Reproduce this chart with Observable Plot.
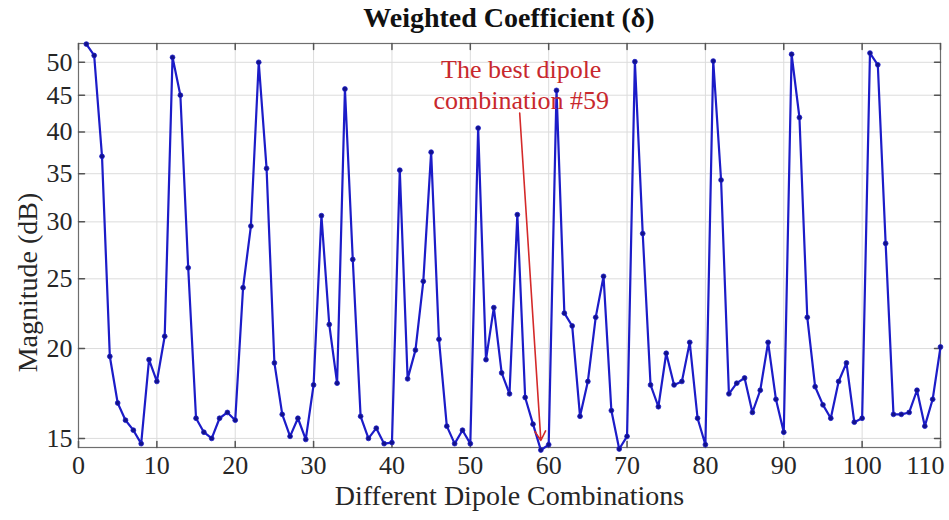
<!DOCTYPE html>
<html><head><meta charset="utf-8">
<script src="https://cdn.jsdelivr.net/npm/d3@7"></script>
<script src="https://cdn.jsdelivr.net/npm/@observablehq/plot@0.6"></script>
<style>
body{margin:0;background:#fff;}
#title{height:40px;width:949px;font:bold 28px "Liberation Serif",serif;line-height:36px;text-align:center;padding-left:69px;box-sizing:border-box;color:#111;}
</style></head><body>
<div id="title">Weighted Coefficient (δ)</div>
<div id="chart"></div>
<script>
// Data
const combos = d3.range(1, 111);
const magnitude = [
  53.0, 51.1, 37.0, 19.5, 16.8, 15.9, 15.4, 14.75, 19.3, 18.0,
  20.8, 50.8, 45.0, 25.9, 16.0, 15.3, 15.0, 16.0, 16.3, 15.9,
  24.3, 29.6, 50.0, 35.6, 19.1, 16.2, 15.1, 16.0, 14.95, 17.8,
  30.6, 21.6, 17.9, 45.9, 26.6, 16.1, 15.0, 15.5, 14.75, 14.8,
  35.4, 18.15, 19.9, 24.8, 37.5, 20.6, 15.6, 14.75, 15.4, 14.75,
  40.5, 19.3, 22.8, 18.5, 17.3, 30.7, 17.1, 15.7, 14.45, 14.7,
  45.7, 22.4, 21.5, 16.1, 18.0, 22.1, 25.2, 16.4, 14.5, 15.1,
  50.1, 28.9, 17.8, 16.6, 19.7, 17.8, 18.0, 20.4, 16.0, 14.7,
  50.2, 34.3, 17.3, 17.9, 18.2, 16.3, 17.5, 20.4, 17.0, 15.3,
  51.3, 41.9, 22.1, 17.7, 16.7, 16.0, 18.0, 19.1, 15.8, 16.0,
  51.5, 49.6, 28.0, 16.2, 16.2, 16.3, 17.5, 15.6, 17.0, 20.1
];
const xTicks = d3.range(0, 111, 10);
const yTicks = [15, 20, 25, 30, 35, 40, 45, 50];
const xDomain = [0, 110];
const yDomain = [14.57, 53.1];
const annotationLabel = "The best dipole\ncombination #59";
const annotationPos = [{x: 56.5, y: 46.7}];
const arrowData = [{x1: 56.3, y1: 42.5, x2: 59, y2: 14.9}];
const axisTitleX = "Different Dipole Combinations";
const axisTitleY = "Magnitude (dB)";

const data = combos.map((c, i) => ({x: c, y: magnitude[i]}));
const tickShape = {draw(ctx, l) { ctx.moveTo(0, 0); ctx.lineTo(0, -l); }};
const tickColor = "#555";
const font = "'Liberation Serif', 'Times New Roman', serif";
const innerTicks = xTicks.filter(d => d < xDomain[1]);
const edgeTicks = xTicks.filter(d => d >= xDomain[1]);

const chart = Plot.plot({
  width: 949,
  height: 480,
  marginLeft: 78,
  marginRight: 9,
  marginTop: 3,
  marginBottom: 73,
  style: {fontFamily: font, fontSize: "26px", color: "#262626", background: "#fff"},
  x: {domain: xDomain, label: null},
  y: {type: "log", domain: yDomain, label: null},
  marks: [
    Plot.gridX(xTicks, {stroke: "#dcdcdc", strokeOpacity: 1}),
    Plot.gridY(yTicks, {stroke: "#dcdcdc", strokeOpacity: 1}),
    Plot.frame({stroke: "#6e6e6e", strokeWidth: 1.2}),
    Plot.vector(xTicks, {x: d => d, y: yDomain[0], length: 6, rotate: 0, anchor: "start", shape: tickShape, stroke: tickColor}),
    Plot.vector(xTicks, {x: d => d, y: yDomain[1], length: 6, rotate: 180, anchor: "start", shape: tickShape, stroke: tickColor}),
    Plot.vector(yTicks, {y: d => d, x: xDomain[0], length: 6, rotate: 90, anchor: "start", shape: tickShape, stroke: tickColor}),
    Plot.vector(yTicks, {y: d => d, x: xDomain[1], length: 6, rotate: -90, anchor: "start", shape: tickShape, stroke: tickColor}),
    Plot.axisX(innerTicks, {tickSize: 0, tickPadding: 8, tickFormat: d => d, label: null}),
    Plot.text(edgeTicks, {x: d => d, frameAnchor: "bottom", lineAnchor: "top", dy: 8, textAnchor: "end", dx: 4, text: d => String(d), fill: "currentColor"}),
    Plot.axisY(yTicks, {tickSize: 0, tickPadding: 6, tickFormat: d => d, label: null}),
    Plot.line(data, {x: "x", y: "y", stroke: "#1c1cc8", strokeWidth: 2.2}),
    Plot.dot(data, {x: "x", y: "y", r: 2.4, fill: "#12128a", stroke: "#1c1cc8", strokeWidth: 0.8}),
    Plot.arrow(arrowData, {x1: "x1", y1: "y1", x2: "x2", y2: "y2", stroke: "#d42a2a", strokeWidth: 1.6, headLength: 10, inset: 0}),
    Plot.text(annotationPos, {x: "x", y: "y", text: () => annotationLabel, fill: "#c8282d", fontSize: 26, lineHeight: 1.18}),
    Plot.text([axisTitleX], {frameAnchor: "bottom", dy: 57, text: d => d, fontSize: 28, fill: "#262626"}),
    Plot.text([axisTitleY], {frameAnchor: "left", textAnchor: "middle", dx: -50, dy: 37, rotate: -90, text: d => d, fontSize: 28, fill: "#262626"})
  ]
});
document.getElementById("chart").appendChild(chart);
</script>
</body></html>
